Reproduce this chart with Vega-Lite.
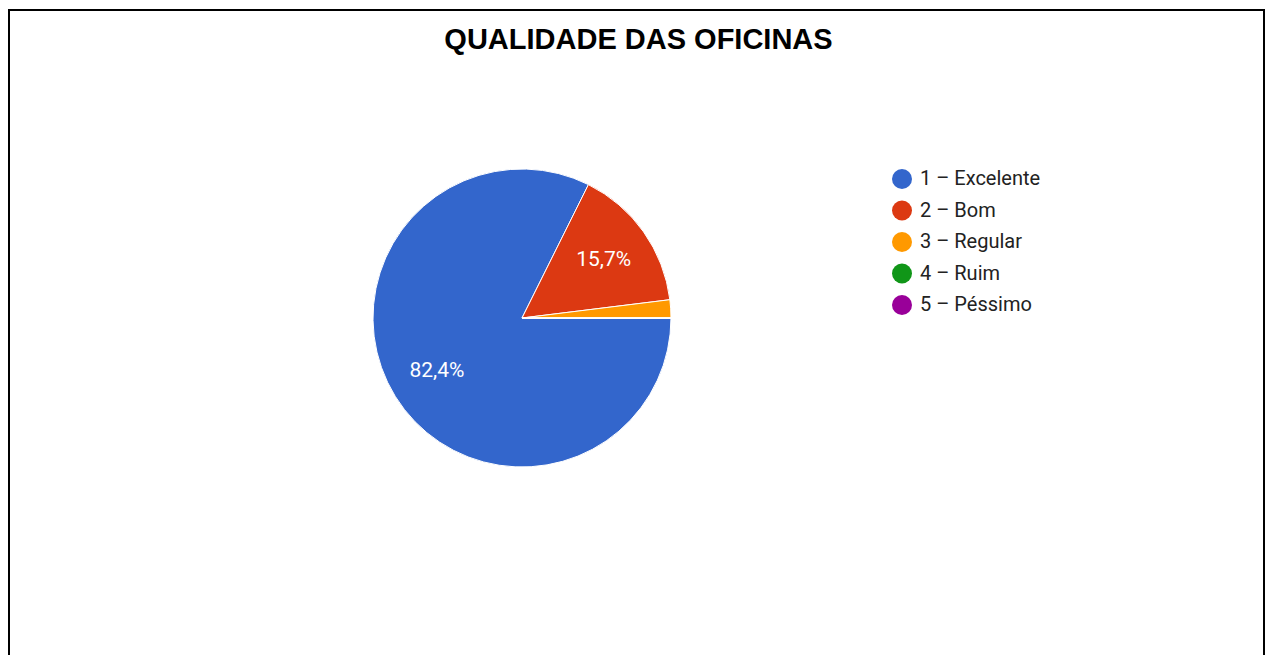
{
  "$schema": "https://vega.github.io/schema/vega-lite/v6.json",
  "autosize": {"type": "pad"},
  "padding": {"left": 9, "top": 10, "right": 5, "bottom": 0},
  "width": 1255,
  "height": 660,
  "background": "white",
  "view": {"stroke": "black", "strokeWidth": 2},
  "config": {
    "view": {"stroke": "black", "strokeWidth": 2}
  },
  "title": {
    "text": "QUALIDADE DAS OFICINAS",
    "font": "Liberation Sans",
    "fontSize": 29,
    "fontWeight": "bold",
    "color": "black",
    "anchor": "middle",
    "frame": "group",
    "baseline": "top",
    "offset": -45,
    "dx": 2
  },
  "data": {
    "values": [
      {"nota": "1 – Excelente", "n": 42, "rotulo": "82,4%"},
      {"nota": "2 – Bom", "n": 8, "rotulo": "15,7%"},
      {"nota": "3 – Regular", "n": 1, "rotulo": ""},
      {"nota": "4 – Ruim", "n": 0, "rotulo": ""},
      {"nota": "5 – Péssimo", "n": 0, "rotulo": ""}
    ]
  },
  "encoding": {
    "theta": {"field": "n", "type": "quantitative", "stack": true, "scale": {"range": [1.5707963, 7.8539816]}},
    "order": {"field": "nota", "type": "ordinal", "sort": "ascending"}
  },
  "layer": [
    {
      "mark": {"type": "arc", "outerRadius": 149, "stroke": "white", "strokeWidth": 1, "x": {"expr": "width*0.40876"}, "y": {"expr": "308"}},
      "encoding": {
        "color": {
          "field": "nota",
          "type": "nominal",
          "scale": {"domain": ["1 – Excelente", "2 – Bom", "3 – Regular", "4 – Ruim", "5 – Péssimo"], "range": ["#3366cc", "#dc3912", "#ff9900", "#109618", "#990099"]},
          "legend": {
            "title": null,
            "orient": "none",
            "legendX": 883,
            "legendY": 159,
            "padding": 0,
            "symbolType": "circle",
            "symbolSize": 400,
            "symbolStrokeWidth": 0,
            "symbolOpacity": 1,
            "labelFont": "Roboto",
            "labelFontSize": 20,
            "labelColor": "#222222",
            "labelOffset": 8,
            "rowPadding": 11.5,
            "labelLimit": 300
          }
        }
      }
    },
    {
      "mark": {"type": "text", "radius": 100, "font": "Roboto", "fontSize": 21, "fill": "white", "x": {"expr": "width*0.40876"}, "y": {"expr": "308"}},
      "encoding": {
        "detail": {"field": "nota", "type": "nominal"},
        "text": {"field": "rotulo", "type": "nominal"}
      }
    }
  ]
}
